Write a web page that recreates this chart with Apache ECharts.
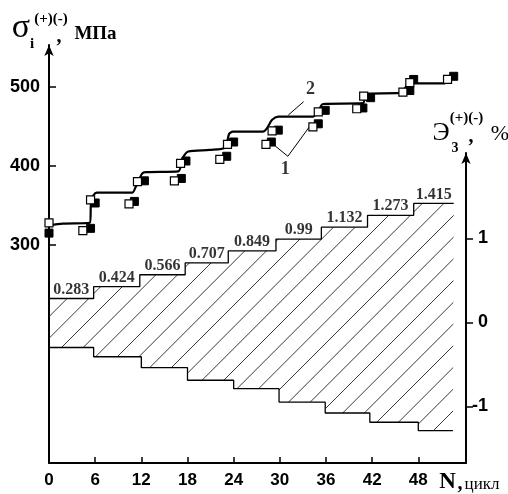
<!DOCTYPE html>
<html>
<head>
<meta charset="utf-8">
<script src="https://cdn.jsdelivr.net/npm/echarts@6/dist/echarts.min.js"></script>
<style>
  html, body { margin: 0; padding: 0; background: #fff; }
  #chart { width: 508px; height: 494px; }
</style>
</head>
<body>
<div id="chart"></div>
<script>
// Axis ticks
const cycleTicks = [0, 6, 12, 18, 24, 30, 36, 42, 48];
const stressTicks = [300, 400, 500];
const strainTicks = [-1, 0, 1];

// Measured stress, series 1 (open squares): cycle N, stress MPa
const openN = [0, 4.4, 5.4, 10.4, 11.5, 16.3, 17.1, 22.2, 23.2, 28.2, 29.0, 34.3, 35.0, 40.0, 40.9, 46.0, 46.9, 51.8];
const openS = [328, 318, 357, 352, 380, 381, 403, 408, 427, 427, 444, 449, 468, 472, 488, 493, 505, 509];

// Measured stress, series 1 (filled squares)
const filledN = [0, 5.4, 6.0, 11.1, 12.4, 17.2, 17.8, 23.1, 24.0, 28.9, 29.8, 35.0, 35.9, 40.8, 41.8, 46.9, 47.4, 52.6];
const filledS = [315, 321, 353, 355, 381, 384, 406, 412, 430, 430, 445, 453, 470, 473, 486, 495, 509, 513];

// Curve 2 (model response)
const curveN = [0, 1.8, 5.3, 5.5, 6.2, 10.8, 11.3, 12.1, 12.6, 16.8, 17.4, 18.1, 20.9, 22.9, 23.4, 23.9, 27.8, 28.3, 29.0, 29.8, 34.3, 35.0, 35.6, 40.8, 41.3, 45.6, 46.1, 46.9, 47.2, 51.5];
const curveS = [325, 327, 328, 357, 366, 366, 374, 390, 392, 393, 410, 418, 420, 423, 440, 443, 443, 447, 458, 462, 462, 469, 478, 479, 491, 492, 496, 505, 504, 504];

// Strain amplitude program: step edges (cycles) and levels (%)
const upperEdges = [0, 5.8, 11.8, 17.7, 23.3, 29.5, 35.4, 41.4, 47.4, 52.6];
const upperLevels = [0.283, 0.424, 0.566, 0.707, 0.849, 0.99, 1.132, 1.273, 1.415];
const lowerEdges = [0, 5.8, 12.0, 18.0, 24.0, 29.9, 35.9, 41.7, 48.0, 52.5];
const lowerLevels = [-0.30, -0.41, -0.54, -0.69, -0.79, -0.95, -1.08, -1.19, -1.29];

// Callout labels
const callout2 = [[33.1, 481], [31.1, 464]];
const callout1 = [[29.4, 425], [31.05, 412], [33.9, 450]];
const calloutText = [{ value: [34.0, 497], name: '2' }, { value: [30.7, 395], name: '1' }];

function zip(a, b) { return a.map((v, i) => [v, b[i]]); }
function stepPoints(edges, levels) {
  const pts = [];
  levels.forEach((v, i) => { pts.push([edges[i], v]); pts.push([edges[i + 1], v]); });
  return pts;
}

// Diagonal hatch tile
const tile = 65;
const hatch = document.createElement('canvas');
hatch.width = tile; hatch.height = tile;
(function () {
  const ctx = hatch.getContext('2d');
  ctx.strokeStyle = '#222';
  ctx.lineWidth = 0.9;
  const gap = tile / 3;
  for (let k = -2; k <= 9; k++) {
    const s = 19 + k * gap;
    ctx.beginPath();
    ctx.moveTo(s + 5, -5);
    ctx.lineTo(-5, s + 5);
    ctx.stroke();
  }
})();

const serif = '"Liberation Serif", "Times New Roman", serif';
const sans = '"Liberation Sans", Arial, sans-serif';
const axisLabelStyle = { color: '#000', fontFamily: sans, fontWeight: 'bold', fontSize: 17 };

const chart = echarts.init(document.getElementById('chart'), null, { renderer: 'canvas' });

function txt(text, x, y, font, align) {
  return {
    type: 'text', x: x, y: y, silent: true,
    style: { text: text, font: font, fill: '#000', align: align || 'center', verticalAlign: 'middle',
             textAlign: align || 'center', textVerticalAlign: 'middle' }
  };
}

chart.setOption({
  animation: false,
  backgroundColor: '#fff',
  grid: [
    { left: 49, right: 42, top: 45, bottom: 31, outerBoundsMode: 'none', containLabel: false },
    { left: 49, right: 42, top: 153, bottom: 31, outerBoundsMode: 'none', containLabel: false }
  ],
  xAxis: [
    {
      gridIndex: 0, type: 'value', min: 0, max: 54.2,
      axisLine: { show: true, onZero: false, lineStyle: { color: '#000', width: 2 } },
      axisTick: { show: true, inside: true, length: 6, customValues: cycleTicks, lineStyle: { color: '#000', width: 1.5 } },
      axisLabel: { show: true, customValues: cycleTicks, margin: 9, ...axisLabelStyle },
      splitLine: { show: false }
    },
    { gridIndex: 1, type: 'value', min: 0, max: 54.2, show: false }
  ],
  yAxis: [
    {
      gridIndex: 0, type: 'value', min: 24.7, max: 552.5,
      axisLine: { show: true, onZero: false, symbol: ['none', 'arrow'], symbolSize: [7, 11], lineStyle: { color: '#000', width: 2 } },
      axisTick: { show: true, inside: true, length: 7, customValues: stressTicks, lineStyle: { color: '#000', width: 1.5 } },
      axisLabel: { show: true, customValues: stressTicks, margin: 9, ...axisLabelStyle, fontSize: 18 },
      splitLine: { show: false }
    },
    {
      gridIndex: 1, type: 'value', position: 'right', min: -1.675, max: 2.015,
      axisLine: { show: true, onZero: false, symbol: ['none', 'arrow'], symbolSize: [7, 11], lineStyle: { color: '#000', width: 2 } },
      axisTick: { show: true, inside: false, length: 7, customValues: strainTicks, lineStyle: { color: '#000', width: 1.5 } },
      axisLabel: { show: true, customValues: strainTicks, margin: 22, align: 'right', ...axisLabelStyle, fontSize: 18 },
      splitLine: { show: false }
    }
  ],
  series: [
    {
      type: 'custom', xAxisIndex: 1, yAxisIndex: 1, silent: true, z: 1,
      data: [[0, 0]],
      renderItem: function (params, api) {
        const pts = stepPoints(upperEdges, upperLevels)
          .concat(stepPoints(lowerEdges, lowerLevels).reverse())
          .map(p => api.coord(p));
        return { type: 'polygon', shape: { points: pts }, style: { fill: { image: hatch, repeat: 'repeat' }, stroke: null } };
      }
    },
    {
      type: 'line', xAxisIndex: 1, yAxisIndex: 1, silent: true, z: 2,
      data: stepPoints(upperEdges, upperLevels), symbol: 'none',
      lineStyle: { color: '#000', width: 1.3 }
    },
    {
      type: 'line', xAxisIndex: 1, yAxisIndex: 1, silent: true, z: 2,
      data: stepPoints(lowerEdges, lowerLevels), symbol: 'none',
      lineStyle: { color: '#000', width: 1.3 }
    },
    {
      type: 'scatter', xAxisIndex: 1, yAxisIndex: 1, silent: true, z: 3,
      data: upperLevels.map((v, i) => [(upperEdges[i] + upperEdges[i + 1]) / 2, v]),
      symbolSize: 0,
      label: {
        show: true, position: 'top', distance: 1,
        formatter: p => String(p.value[1]),
        color: '#000', fontFamily: serif, fontWeight: 'bold', fontSize: 16
      }
    },
    {
      type: 'line', xAxisIndex: 0, yAxisIndex: 0, silent: true, z: 4,
      data: zip(curveN, curveS), symbol: 'none', smooth: 0.25,
      lineStyle: { color: '#000', width: 2.2 }
    },
    {
      type: 'line', xAxisIndex: 0, yAxisIndex: 0, silent: true, z: 4,
      data: callout2, symbol: 'none', lineStyle: { color: '#000', width: 1 }
    },
    {
      type: 'line', xAxisIndex: 0, yAxisIndex: 0, silent: true, z: 4,
      data: callout1, symbol: 'none', lineStyle: { color: '#000', width: 1 }
    },
    {
      type: 'scatter', xAxisIndex: 0, yAxisIndex: 0, silent: true, z: 5,
      data: zip(filledN, filledS), symbol: 'rect', symbolSize: 8,
      itemStyle: { color: '#000', borderColor: '#000', borderWidth: 1, opacity: 1 }
    },
    {
      type: 'scatter', xAxisIndex: 0, yAxisIndex: 0, silent: true, z: 6,
      data: zip(openN, openS), symbol: 'rect', symbolSize: 8,
      itemStyle: { color: '#fff', borderColor: '#000', borderWidth: 1.2, opacity: 1 }
    },
    {
      type: 'scatter', xAxisIndex: 0, yAxisIndex: 0, silent: true, z: 6,
      data: calloutText, symbolSize: 0,
      label: { show: true, position: 'inside', formatter: p => p.name,
               color: '#000', fontFamily: serif, fontWeight: 'bold', fontSize: 18 }
    }
  ],
  graphic: [
    txt('σ', 21, 28, 'normal 34px ' + serif),
    txt('(+)(-)', 51, 19, 'bold 15px ' + serif),
    txt('i', 32, 44, 'bold 15px ' + serif),
    txt(',', 59, 37, 'bold 20px ' + serif),
    txt('МПа', 95.5, 34, 'bold 19px ' + serif),
    txt('Э', 441, 133, 'normal 26px ' + serif),
    txt('(+)(-)', 466.5, 118, 'bold 15px ' + serif),
    txt('3', 455, 148, 'bold 14px ' + serif),
    txt(',', 471, 137, 'bold 20px ' + serif),
    txt('%', 500, 134, 'normal 22px ' + serif),
    txt('N', 447.5, 482, 'bold 23px ' + serif),
    txt(',', 460, 484, 'bold 20px ' + serif),
    txt('цикл', 482, 485, 'normal 17px ' + serif)
  ]
});
</script>
</body>
</html>
